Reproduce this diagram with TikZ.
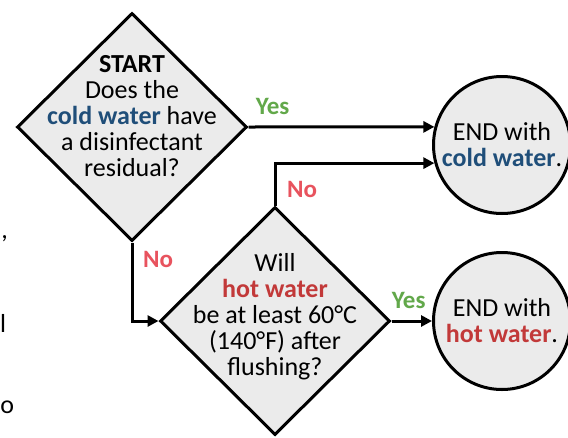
\documentclass[tikz,border=0pt]{standalone}
\usepackage{fontspec}
\setmainfont{Carlito}
\usetikzlibrary{shapes.geometric,arrows.meta}
\definecolor{coldblue}{RGB}{31,78,121}
\definecolor{hotred}{RGB}{194,57,57}
\definecolor{nored}{RGB}{232,83,94}
\definecolor{yesgreen}{RGB}{98,168,74}
\definecolor{boxgray}{RGB}{235,235,235}
\begin{document}
\begin{tikzpicture}[x=1pt,y=-1pt,line width=3pt,
  question/.style={diamond,draw,fill=boxgray,minimum width=230pt,minimum height=228pt,inner sep=0pt},
  qtext/.style={align=center,font=\fontsize{26}{26}\selectfont},
  finish/.style={circle,draw,fill=boxgray,minimum size=137pt,inner sep=0pt,align=center,font=\fontsize{26}{26}\selectfont},
  yes/.style={text=yesgreen,font=\fontsize{25}{25}\selectfont\bfseries},
  no/.style={text=nored,font=\fontsize{25}{25}\selectfont\bfseries},
  >={Triangle[length=11pt,width=11pt]}]
  \useasboundingbox (0,0) rectangle (568,437);
  \node[question] (q1) at (132,127) {};
  \node[qtext] (t1) at (132,116.5) {\textbf{START}\\Does the\\\textbf{\textcolor{coldblue}{cold water}} have\\a disinfectant\\residual?};
  \node[question] (q2) at (275,321) {};
  \node[qtext] (t2) at (275,316.5) {Will\\\textbf{\textcolor{hotred}{hot water}}\\be at least 60°C\\(140°F) after\\flushing?};
  \node[finish] (e1) at (502,145) {END with\\\textbf{\textcolor{coldblue}{cold water}}.};
  \node[finish] (e2) at (502,321) {END with\\\textbf{\textcolor{hotred}{hot water}}.};
  \draw[->] (q1.east) -- (e1.165) node[yes,pos=0.13,yshift=21pt] (y1) {Yes};
  \draw[->] (q2.north) |- (e1.195) node[no,pos=0.4,xshift=27pt,yshift=-18pt] (n2) {No};
  \draw[->] (q1.south) |- (q2.west) node[no,pos=0.11,xshift=26pt] (n1) {No};
  \draw[->] (q2.east) -- (e2.west) node[yes,midway,xshift=-3pt,yshift=21pt] (y2) {Yes};
  \node[qtext,anchor=base west,inner sep=0pt] (frag1) at (0,238) {,};
  \node[qtext,anchor=base west,inner sep=0pt] (frag2) at (-1.5,332) {l};
  \node[qtext,anchor=base west,inner sep=0pt] (frag3) at (-1,413) {o};
\end{tikzpicture}
\end{document}
